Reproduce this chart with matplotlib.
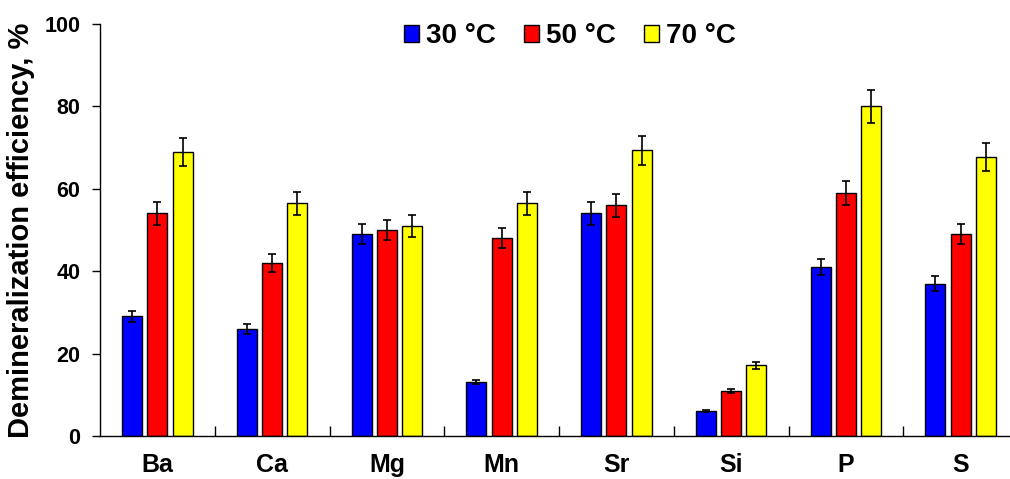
import matplotlib
matplotlib.use("Agg")
import matplotlib.pyplot as plt
import numpy as np

plt.rcParams['font.family'] = ['Liberation Sans', 'DejaVu Sans']
plt.rcParams['font.weight'] = 'bold'

categories = ["Ba", "Ca", "Mg", "Mn", "Sr", "Si", "P", "S"]
series = ["30 \u00b0C", "50 \u00b0C", "70 \u00b0C"]
v30 = [29, 26, 49, 13, 54, 6, 41, 37]
v50 = [54, 42, 50, 48, 56, 11, 59, 49]
v70 = [69, 56.5, 51, 56.5, 69.3, 17.2, 80, 67.8]
e30 = [1.4, 1.3, 2.4, 0.5, 2.7, 0.3, 2.0, 1.8]
e50 = [2.7, 2.1, 2.5, 2.4, 2.8, 0.5, 3.0, 2.4]
e70 = [3.4, 2.8, 2.6, 2.8, 3.5, 0.85, 4.0, 3.4]
colors = ["#0000FF", "#FF0000", "#FFFF00"]

fig = plt.figure(figsize=(10.10, 4.79), dpi=100)
ax = fig.add_axes([0.099, 0.0898, 0.909, 0.8602])

x = np.arange(len(categories))
w = 0.174
step = 0.22
for i, (vals, errs, c, lab) in enumerate(zip([v30, v50, v70], [e30, e50, e70], colors, series)):
    ax.bar(x + (i - 1) * step, vals, w, color=c, edgecolor='black', linewidth=1.0,
           yerr=errs, capsize=3.2, error_kw=dict(elinewidth=1.2, capthick=1.2, ecolor='black'),
           label=lab, zorder=2)

ax.set_xlim(-0.5, len(categories) - 0.5)
ax.set_ylim(0, 100)
ax.set_yticks([0, 20, 40, 60, 80, 100])
ax.set_xticks(x)
ax.set_xticklabels(categories, fontsize=18, fontweight='bold')
ax.set_xticks(np.arange(len(categories)) + 0.5, minor=True)
ax.tick_params(axis='x', which='major', length=0, pad=12.5)
ax.tick_params(axis='x', which='minor', direction='in', length=7, width=1)
ax.tick_params(axis='y', direction='out', length=6, width=1, labelsize=15.5, pad=8)
for lab in ax.get_yticklabels():
    lab.set_fontweight('bold')
ax.spines['top'].set_visible(False)
ax.spines['right'].set_visible(False)
ax.spines['left'].set_linewidth(1)
ax.spines['bottom'].set_linewidth(1)

ax.set_ylabel("Demineralization efficiency, %", fontsize=21, fontweight='bold', labelpad=7)

leg = ax.legend(loc='center', bbox_to_anchor=(0.512, 0.970), ncol=3, frameon=False,
                prop={'size': 20, 'weight': 'bold'}, handlelength=0.55, handleheight=0.55,
                handletextpad=0.25, columnspacing=1.0, borderpad=0, borderaxespad=0)

fig.savefig("out.png", dpi=100)
